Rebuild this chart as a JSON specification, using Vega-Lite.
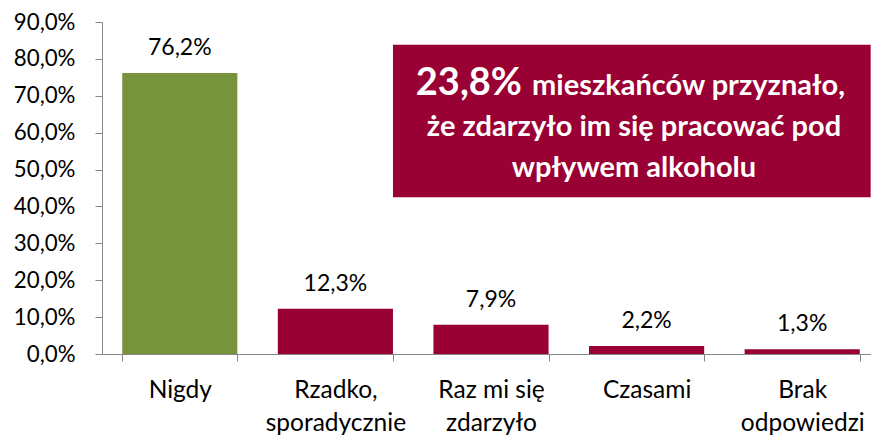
{
  "$schema": "https://vega.github.io/schema/vega-lite/v6.json",
  "width": 778,
  "height": 332,
  "autosize": "none",
  "padding": {"left": 102, "top": 22, "right": 0, "bottom": 81},
  "background": "white",
  "config": {
    "view": {"stroke": null},
    "font": "Lato",
    "locale": {"number": {"decimal": ",", "thousands": " ", "grouping": [3], "currency": ["", " zł"]}}
  },
  "layer": [
    {
      "data": {"values": [
        {"kategoria": "Nigdy", "udzial": 0.762},
        {"kategoria": "Rzadko,\nsporadycznie", "udzial": 0.123},
        {"kategoria": "Raz mi się\nzdarzyło", "udzial": 0.079},
        {"kategoria": "Czasami", "udzial": 0.022},
        {"kategoria": "Brak\nodpowiedzi", "udzial": 0.013}
      ]},
      "encoding": {
        "x": {
          "field": "kategoria", "type": "nominal", "sort": null,
          "scale": {"paddingInner": 0.26, "paddingOuter": 0.13},
          "axis": {
            "title": null, "labelAngle": 0, "tickBand": "extent",
            "labelExpr": "split(datum.label, '\\n')",
            "labelFont": "Lato", "labelFontSize": 24.5, "labelColor": "#000000",
            "labelLineHeight": 33, "labelBaseline": "alphabetic", "labelPadding": 36,
            "domainColor": "#868686", "tickColor": "#868686", "tickSize": 7
          }
        },
        "y": {
          "field": "udzial", "type": "quantitative",
          "scale": {"domain": [0, 0.9], "nice": false},
          "axis": {
            "title": null, "grid": false, "format": ".1%",
            "values": [0, 0.1, 0.2, 0.3, 0.4, 0.5, 0.6, 0.7, 0.8, 0.9],
            "labelOverlap": false, "labelBound": false,
            "labelFont": "Lato", "labelFontSize": 22.3, "labelColor": "#000000",
            "labelPadding": 20, "tickSize": 7,
            "domainColor": "#868686", "tickColor": "#868686"
          }
        }
      },
      "layer": [
        {
          "mark": {"type": "bar"},
          "encoding": {
            "color": {
              "field": "kategoria", "type": "nominal", "legend": null,
              "scale": {
                "domain": ["Nigdy", "Rzadko,\nsporadycznie", "Raz mi się\nzdarzyło", "Czasami", "Brak\nodpowiedzi"],
                "range": ["#77933C", "#990033", "#990033", "#990033", "#990033"]
              }
            }
          }
        },
        {
          "mark": {"type": "text", "baseline": "alphabetic", "dy": -18, "fontSize": 23, "font": "Lato", "color": "#000000"},
          "encoding": {"text": {"field": "udzial", "type": "quantitative", "format": ".1%"}}
        }
      ]
    },
    {
      "data": {"values": [
        {"liczba": "23,8%", "wiersz1": "mieszkańców przyznało,", "wiersz2": "że zdarzyło im się pracować pod", "wiersz3": "wpływem alkoholu"}
      ]},
      "layer": [
        {
          "mark": {"type": "rect", "color": "#990033"},
          "encoding": {
            "x": {"datum": 0.374, "type": "quantitative", "scale": {"domain": [0, 1]}, "axis": null},
            "x2": {"datum": 0.988},
            "y": {"datum": 0.838, "type": "quantitative", "axis": null},
            "y2": {"datum": 0.425}
          }
        },
        {
          "mark": {"type": "text", "align": "right", "baseline": "alphabetic", "fontSize": 38, "fontWeight": "bold", "font": "Lato", "color": "white"},
          "encoding": {
            "x": {"datum": 0.5398, "type": "quantitative", "axis": null},
            "y": {"datum": 0.703, "type": "quantitative", "axis": null},
            "text": {"field": "liczba"}
          }
        },
        {
          "mark": {"type": "text", "align": "left", "baseline": "alphabetic", "fontSize": 29, "fontWeight": "bold", "font": "Lato", "color": "white"},
          "encoding": {
            "x": {"datum": 0.5527, "type": "quantitative", "axis": null},
            "y": {"datum": 0.703, "type": "quantitative", "axis": null},
            "text": {"field": "wiersz1"}
          }
        },
        {
          "mark": {"type": "text", "align": "center", "baseline": "alphabetic", "fontSize": 29, "fontWeight": "bold", "font": "Lato", "color": "white"},
          "encoding": {
            "x": {"datum": 0.6838, "type": "quantitative", "axis": null},
            "y": {"datum": 0.59, "type": "quantitative", "axis": null},
            "text": {"field": "wiersz2"}
          }
        },
        {
          "mark": {"type": "text", "align": "center", "baseline": "alphabetic", "fontSize": 29, "fontWeight": "bold", "font": "Lato", "color": "white"},
          "encoding": {
            "x": {"datum": 0.6838, "type": "quantitative", "axis": null},
            "y": {"datum": 0.481, "type": "quantitative", "axis": null},
            "text": {"field": "wiersz3"}
          }
        }
      ]
    }
  ],
  "resolve": {"scale": {"x": "independent", "color": "independent"}, "axis": {"y": "independent"}}
}
